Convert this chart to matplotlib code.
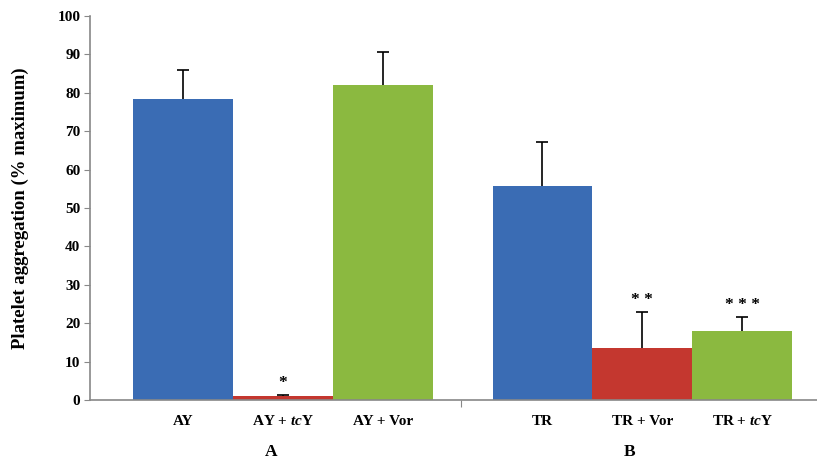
import matplotlib
matplotlib.use("Agg")
import matplotlib.pyplot as plt
import numpy as np

categories = ["AY", "AY + $\\mathbfit{tc}$Y", "AY + Vor", "TR", "TR + Vor", "TR + $\\mathbfit{tc}$Y"]
values = [78.5, 1.0, 82.0, 55.7, 13.5, 18.0]
errors = [7.5, 0.3, 8.5, 11.5, 9.4, 3.6]
stars = ["", "*", "", "", "* *", "* * *"]
groups = ["A", "B"]
colors = ["#3a6cb4", "#c4372f", "#8bb940", "#3a6cb4", "#c4372f", "#8bb940"]
yticks = [0, 10, 20, 30, 40, 50, 60, 70, 80, 90, 100]

plt.rcParams['font.family'] = ['Liberation Serif', 'DejaVu Serif']
plt.rcParams['mathtext.fontset'] = 'custom'
plt.rcParams['mathtext.bfit'] = 'Liberation Serif:italic:bold'
plt.rcParams['mathtext.rm'] = 'Liberation Serif:bold'

x = np.array([0, 1, 2, 3.6, 4.6, 5.6])

fig = plt.figure(figsize=(8.17, 4.66), dpi=100)
ax = fig.add_axes([90/817, 66/466, 1 - 90/817 + 0.01, 384/466])

ax.bar(x, values, width=1.0, color=colors, edgecolor='none', zorder=2)
eb = ax.errorbar(x, values, yerr=[np.zeros(len(values)), errors], fmt='none',
                 ecolor='black', elinewidth=1.2, capsize=4, capthick=1.2, zorder=3)
# hide the lower caps (only upper error shown)
caplines = eb[1]
if len(caplines) == 2:
    caplines[0].set_visible(False)

for xi, v, e, s in zip(x, values, errors, stars):
    if s:
        ax.text(xi, v + e + 1.0, s, ha='center', va='bottom', fontsize=12.5,
                fontweight='bold', color='black')

ax.set_ylim(0, 100)
ax.set_xlim(-0.93, 6.43)
ax.set_yticks(yticks)
ax.set_yticklabels([str(t) for t in yticks], fontsize=11, fontweight='bold')
ax.set_ylabel("Platelet aggregation (% maximum)", fontsize=13.5, fontweight='bold', labelpad=20)

ax.set_xticks([2.78])
ax.set_xticklabels([""])
ax.tick_params(axis='x', length=5, color='#888888', direction='out')
ax.tick_params(axis='y', length=4, color='#888888', direction='out', pad=3)

for spine in ['top', 'right']:
    ax.spines[spine].set_visible(False)
for spine in ['left', 'bottom']:
    ax.spines[spine].set_color('#888888')
    ax.spines[spine].set_linewidth(1.2)

for xi, c in zip(x, categories):
    ax.text(xi, -5.5, c, ha='center', va='center', fontsize=11, fontweight='bold')

ax.text(0.88, -13.5, groups[0], ha='center', va='center', fontsize=12.5, fontweight='bold')
ax.text(4.47, -13.5, groups[1], ha='center', va='center', fontsize=12.5, fontweight='bold')

fig.savefig("out.png", dpi=100)
